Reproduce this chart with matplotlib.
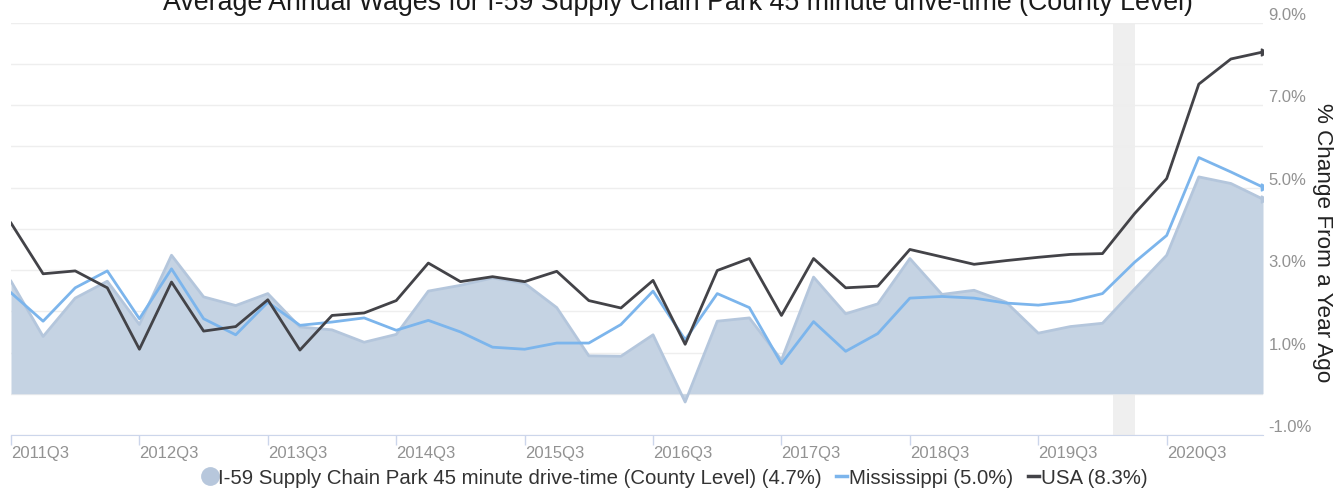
import numpy as np
import matplotlib
matplotlib.use("Agg")
import matplotlib.pyplot as plt
from matplotlib.lines import Line2D
from matplotlib.ticker import FuncFormatter

plt.rcParams['font.family'] = ['Liberation Sans', 'DejaVu Sans']

# quarters 2011Q3 .. 2021Q2
quarters = [f"{y}Q{q}" for y in range(2011, 2022) for q in range(1, 5)][2:42]

i59 = [2.73, 1.39, 2.32, 2.73, 1.68, 3.36, 2.35, 2.14, 2.43, 1.62,
       1.55, 1.25, 1.44, 2.49, 2.63, 2.81, 2.68, 2.09, 0.92, 0.91,
       1.43, -0.20, 1.76, 1.84, 0.82, 2.83, 1.94, 2.18, 3.28, 2.41,
       2.51, 2.22, 1.47, 1.63, 1.71, 2.54, 3.36, 5.26, 5.10, 4.72]

mississippi = [2.45, 1.76, 2.57, 2.98, 1.82, 3.03, 1.82, 1.43, 2.22, 1.66,
               1.74, 1.84, 1.54, 1.78, 1.50, 1.13, 1.08, 1.23, 1.23, 1.68,
               2.49, 1.31, 2.43, 2.09, 0.73, 1.75, 1.03, 1.46, 2.32, 2.36,
               2.32, 2.20, 2.15, 2.24, 2.43, 3.19, 3.84, 5.73, 5.38, 5.01]

usa = [4.14, 2.91, 2.98, 2.57, 1.08, 2.71, 1.52, 1.63, 2.28, 1.06,
       1.90, 1.96, 2.26, 3.17, 2.72, 2.84, 2.72, 2.97, 2.26, 2.08,
       2.75, 1.20, 2.99, 3.28, 1.90, 3.28, 2.57, 2.61, 3.50, 3.32,
       3.14, 3.23, 3.31, 3.38, 3.40, 4.37, 5.22, 7.51, 8.12, 8.29]

recession = (34.33, 35.0)  # Feb 2020 - Apr 2020

legend_labels = [
    "I-59 Supply Chain Park 45 minute drive-time (County Level) (4.7%)",
    "Mississippi (5.0%)",
    "USA (8.3%)",
]
title = "Average Annual Wages for I-59 Supply Chain Park 45 minute drive-time (County Level)"

area_fill = '#c5d3e3'
area_edge = '#b4c6dc'
ms_color = '#7cb5ec'
usa_color = '#434348'

W, H = 1335, 490
fig = plt.figure(figsize=(W / 100, H / 100), dpi=100)
ax = fig.add_axes([11 / W, 55 / H, (1263 - 11) / W, (467.3 - 55) / H])

x = np.arange(len(quarters))

ax.axvspan(recession[0], recession[1], color='#efefef', zorder=0, lw=0)
ax.fill_between(x, 0, i59, color=area_fill, lw=0, zorder=2)
ax.plot(x, i59, color=area_edge, lw=2, zorder=2)
ax.plot(x, mississippi, color=ms_color, lw=2, zorder=3)
ax.plot(x, usa, color=usa_color, lw=2, zorder=4)
# end arrows
ax.plot(x[-1], i59[-1], marker=(3, 0, -90), color=area_edge, ms=6, zorder=2)
ax.plot(x[-1], mississippi[-1], marker=(3, 0, -90), color=ms_color, ms=6, zorder=3)
ax.plot(x[-1], usa[-1], marker=(3, 0, -90), color=usa_color, ms=6, zorder=4)

ax.set_xlim(0, len(quarters) - 1)
ax.set_ylim(-1, 9)

# y axis on the right
ax.yaxis.tick_right()
ax.set_yticks(np.arange(-1, 10))
ax.yaxis.set_major_formatter(FuncFormatter(lambda v, p: f"{v:.1f}%" if int(round(v)) % 2 else ""))
ax.tick_params(axis='y', length=0, pad=4, labelsize=12, labelcolor='#929292')
ax.grid(axis='y', color='#eeeeee', lw=1, zorder=0)
for lab in ax.get_yticklabels():
    lab.set_va('bottom')
fig.text(1322 / W, 1 - 243 / H, "% Change From a Year Ago", rotation=270,
         ha='center', va='center', fontsize=16.2, color='#222222')

# x axis
xt = list(range(0, len(quarters), 4))
ax.set_xticks(xt)
ax.set_xticklabels([quarters[i] for i in xt])
ax.tick_params(axis='x', length=7, width=1, color='#ccd6eb', pad=1, labelsize=12, labelcolor='#929292')
for lab in ax.get_xticklabels():
    lab.set_ha('left')

for s in ['top', 'right', 'left']:
    ax.spines[s].set_visible(False)
ax.spines['bottom'].set_color('#ccd6eb')
ax.set_axisbelow(True)

fig.text(678 / W, 1 - 10 / H, title, ha='center', va='baseline', fontsize=19.3, color='#1a1a1a')

handles = [
    Line2D([], [], marker='o', ls='none', color='#b7c7dc', ms=12.5),
    Line2D([], [], color=ms_color, lw=2.5),
    Line2D([], [], color=usa_color, lw=2.5),
]
fig.legend(handles, legend_labels, loc='center', bbox_to_anchor=(676 / W, 1 - 478 / H),
           ncol=3, frameon=False, fontsize=14.7, labelcolor='#333333',
           handlelength=0.55, handletextpad=0.12, columnspacing=0.7, borderpad=0)

fig.savefig("out.png", dpi=100)
